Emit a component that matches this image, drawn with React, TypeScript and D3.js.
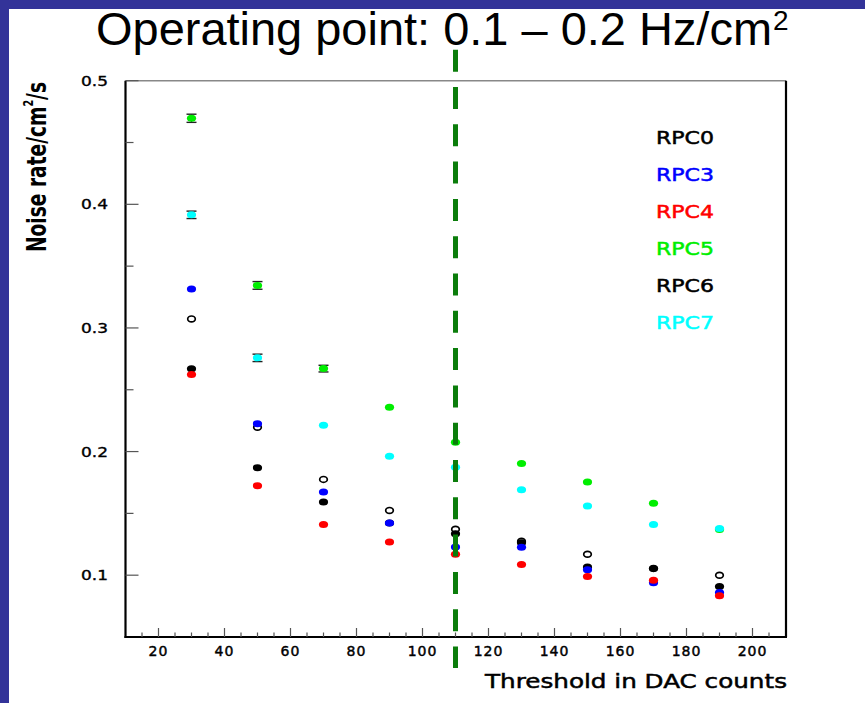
import React from "react";
import * as d3 from "d3";

const thresholds = [30, 50, 70, 90, 110, 130, 150, 170, 190];

const rpc0 = [0.3073, 0.2197, 0.1775, 0.1524, 0.1371, 0.1275, 0.1169, 0.1055, 0.1];
const rpc3 = [0.3315, 0.2225, 0.1673, 0.1422, 0.1229, 0.1226, 0.1043, 0.0938, 0.086];
const rpc4 = [0.2623, 0.1724, 0.1411, 0.1268, 0.1169, 0.1086, 0.099, 0.0959, 0.0833];
const rpc5 = [0.4696, 0.3344, 0.2671, 0.2359, 0.2076, 0.1904, 0.1753, 0.1581, 0.137];
const rpc6 = [0.2669, 0.1869, 0.1592, 0.1422, 0.1336, 0.1262, 0.1067, 0.1054, 0.0909];
const rpc7 = [0.3915, 0.2758, 0.2213, 0.1963, 0.1874, 0.1691, 0.1559, 0.1411, 0.1378];

const rpc5Err = [0.0033, 0.0031, 0.0027, 0, 0, 0, 0, 0, 0];
const rpc7Err = [0.003, 0.003, 0, 0, 0, 0, 0, 0, 0];
const zeroErr = [0, 0, 0, 0, 0, 0, 0, 0, 0];

const xTicks = [20, 40, 60, 80, 100, 120, 140, 160, 180, 200];
const yTicks = [0.1, 0.2, 0.3, 0.4, 0.5];
const yTickLabels = ["0.1", "0.2", "0.3", "0.4", "0.5"];

const legendNames = ["RPC0", "RPC3", "RPC4", "RPC5", "RPC6", "RPC7"];
const legendColors = ["#000000", "#0000ff", "#ff0000", "#00ee00", "#000000", "#00ffff"];

const operatingPoint = 110;

// draw order (back to front)
const series = [
  { name: "RPC0", values: rpc0, errs: zeroErr, color: "#000000", open: true },
  { name: "RPC6", values: rpc6, errs: zeroErr, color: "#000000", open: false },
  { name: "RPC3", values: rpc3, errs: zeroErr, color: "#0000ff", open: false },
  { name: "RPC4", values: rpc4, errs: zeroErr, color: "#ff0000", open: false },
  { name: "RPC5", values: rpc5, errs: rpc5Err, color: "#00ee00", open: false },
  { name: "RPC7", values: rpc7, errs: rpc7Err, color: "#00ffff", open: false },
];

export default function App() {
  const W = 865;
  const H = 703;
  const left = 125.5;
  const right = 786;
  const top = 80.7;
  const bottom = 637;

  const x = d3.scaleLinear().domain([10, 210]).range([left, left + 660]);
  const y = d3.scaleLinear().domain([0.05, 0.5]).range([bottom, top]);

  const xMinor = d3.range(15, 210, 5).filter((v) => v % 20 !== 0);
  const yMinor = [0.15, 0.25, 0.35, 0.45];

  const tickFont = "'DejaVu Sans', sans-serif";

  return (
    <svg
      width={W}
      height={H}
      viewBox={`0 0 ${W} ${H}`}
      style={{ position: "absolute", left: 0, top: 0, background: "#ffffff" }}
    >
      <rect x={0} y={0} width={W} height={H} fill="#ffffff" />
      {/* blue bands */}
      <rect x={0} y={0} width={W} height={9} fill="#333399" />
      <rect x={0} y={0} width={9} height={H} fill="#333399" />

      {/* title */}
      <text
        x={96}
        y={45}
        fontFamily="'Liberation Sans', Arial, sans-serif"
        fontSize={47}
        textLength={676}
        lengthAdjust="spacingAndGlyphs"
        fill="#000"
      >
        Operating point: 0.1 – 0.2 Hz/cm
      </text>
      <text
        x={773}
        y={30}
        fontFamily="'Liberation Sans', Arial, sans-serif"
        fontSize={28}
        fill="#000"
      >
        2
      </text>

      {/* frame */}
      <line x1={left} x2={right} y1={top} y2={top} stroke="#888" strokeWidth={1.5} />
      <line x1={right} x2={right} y1={top} y2={bottom} stroke="#000" strokeWidth={2.2} />
      <line x1={left} x2={left} y1={top} y2={bottom + 1} stroke="#000" strokeWidth={2.2} />
      <line x1={left - 1} x2={right + 1} y1={bottom} y2={bottom} stroke="#000" strokeWidth={2.2} />

      {/* x ticks */}
      {xTicks.map((t) => (
        <line key={"xt" + t} x1={x(t)} x2={x(t)} y1={bottom} y2={bottom - 9} stroke="#555" strokeWidth={1.2} />
      ))}
      {xMinor.map((t) => (
        <line key={"xm" + t} x1={x(t)} x2={x(t)} y1={bottom} y2={bottom - 4.5} stroke="#555" strokeWidth={1.2} />
      ))}
      {xTicks.map((t) => (
        <text
          key={"xl" + t}
          x={x(t)}
          y={655.5}
          textAnchor="middle"
          fontFamily={tickFont}
          fontSize={14}
          letterSpacing={1}
          fill="#000"
          stroke="#000"
          strokeWidth={0.45}
        >
          {t}
        </text>
      ))}

      {/* y ticks */}
      {yTicks.map((t) => (
        <line key={"yt" + t} x1={left} x2={left + 13} y1={y(t)} y2={y(t)} stroke="#555" strokeWidth={1.2} />
      ))}
      {yMinor.map((t) => (
        <line key={"ym" + t} x1={left} x2={left + 8} y1={y(t)} y2={y(t)} stroke="#555" strokeWidth={1.2} />
      ))}
      {yTicks.map((t, i) => (
        <text
          key={"yl" + t}
          x={108}
          y={y(t) + 5}
          textAnchor="end"
          fontFamily={tickFont}
          fontSize={14}
          textLength={27}
          lengthAdjust="spacingAndGlyphs"
          fill="#000"
          stroke="#000"
          strokeWidth={0.35}
        >
          {yTickLabels[i]}
        </text>
      ))}

      {/* axis titles */}
      <text
        x={787}
        y={688}
        textAnchor="end"
        fontFamily={tickFont}
        fontSize={20}
        textLength={302}
        lengthAdjust="spacingAndGlyphs"
        fill="#000"
        stroke="#000"
        strokeWidth={0.5}
      >
        Threshold in DAC counts
      </text>
      <text
        transform={`translate(46, 252) rotate(-90)`}
        fontFamily={tickFont}
        fontSize={27}
        fontWeight="bold"
        textLength={170}
        lengthAdjust="spacingAndGlyphs"
        fill="#000"
      >
        Noise rate/cm
        <tspan fontSize={14} dy={-13}>2</tspan>
        <tspan dy={13}>/s</tspan>
      </text>

      {/* error bars */}
      {series.map((s) =>
        s.values.map((v, i) => {
          const e = s.errs[i];
          if (!e) return null;
          const cx = x(thresholds[i]);
          return (
            <g key={s.name + "e" + i} stroke="#222" strokeWidth={1.4}>
              <line x1={cx} x2={cx} y1={y(v + e)} y2={y(v - e)} />
              <line x1={cx - 5} x2={cx + 5} y1={y(v + e)} y2={y(v + e)} />
              <line x1={cx - 5} x2={cx + 5} y1={y(v - e)} y2={y(v - e)} />
            </g>
          );
        })
      )}

      {/* markers */}
      {series.map((s) =>
        s.values.map((v, i) =>
          s.open ? (
            <ellipse
              key={s.name + i}
              cx={x(thresholds[i])}
              cy={y(v)}
              rx={3.8}
              ry={2.9}
              fill="#ffffff"
              stroke={s.color}
              strokeWidth={1.7}
            />
          ) : (
            <ellipse
              key={s.name + i}
              cx={x(thresholds[i])}
              cy={y(v)}
              rx={4.6}
              ry={3.5}
              fill={s.color}
            />
          )
        )
      )}

      {/* operating point dashed line */}
      <line
        x1={x(operatingPoint)}
        x2={x(operatingPoint)}
        y1={49.7}
        y2={668}
        stroke="#0b7d0b"
        strokeWidth={5}
        strokeDasharray="22 15.3"
      />

      {/* legend */}
      {legendNames.map((n, i) => (
        <text
          key={n}
          x={656}
          y={143.5 + i * 37}
          fontFamily={tickFont}
          fontSize={18}
          textLength={58}
          lengthAdjust="spacingAndGlyphs"
          fill={legendColors[i]}
          stroke={legendColors[i]}
          strokeWidth={0.5}
        >
          {n}
        </text>
      ))}
    </svg>
  );
}
